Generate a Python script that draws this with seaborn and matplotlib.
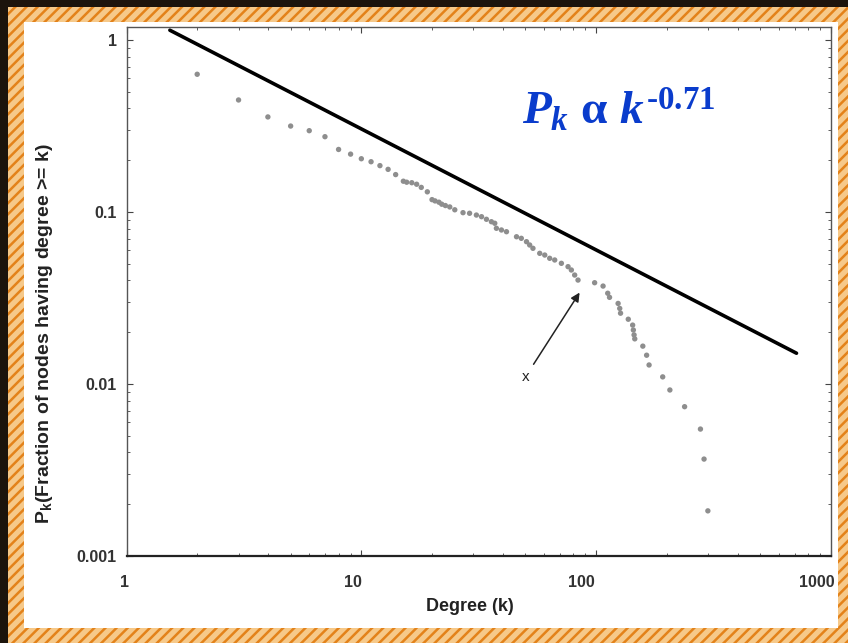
import numpy as np
import pandas as pd
import seaborn as sns
import matplotlib.pyplot as plt
from matplotlib.patches import Rectangle
from matplotlib.ticker import NullFormatter
from matplotlib.transforms import ScaledTranslation

# cumulative degree distribution
degree = [2, 3, 4, 5, 6, 7, 8, 9, 10, 11, 12, 13, 14,
          15.1, 15.6, 16.4, 17.2, 18.0, 19.1,
          20.0, 20.6, 21.4, 22.0, 22.8, 23.8, 25.0,
          27.1, 28.9, 30.9, 32.5, 34.1, 35.8, 37.0,
          37.6, 39.5, 41.5,
          45.8, 48.0, 50.5, 52.1, 53.8,
          57.5, 60.4, 63.4, 66.6,
          71.1, 75.9, 78.4, 81.0, 83.7,
          98.5, 107, 112, 114,
          124, 126, 127, 137,
          143, 144, 145, 146,
          158, 164, 168,
          192, 206, 238,
          278, 288, 299]
frac_nodes = [0.632, 0.448, 0.357, 0.316, 0.297, 0.274, 0.231, 0.217, 0.204, 0.196, 0.186, 0.177, 0.165,
              0.151, 0.149, 0.148, 0.145, 0.139, 0.131,
              0.118, 0.116, 0.114, 0.111, 0.109, 0.107, 0.103,
              0.0991, 0.0983, 0.0960, 0.0939, 0.0907, 0.0878, 0.0860,
              0.0804, 0.0786, 0.0768,
              0.0718, 0.0703, 0.0672, 0.0643, 0.0615,
              0.0575, 0.0562, 0.0538, 0.0526,
              0.0503, 0.0481, 0.0460, 0.0430, 0.0402,
              0.0388, 0.0371, 0.0337, 0.0319,
              0.0294, 0.0275, 0.0258, 0.0238,
              0.0220, 0.0206, 0.0193, 0.0183,
              0.0166, 0.0147, 0.0129,
              0.0110, 0.00923, 0.00738,
              0.00547, 0.00366, 0.00183]

# power-law fit line (end points)
fit_degree = [1.53, 713]
fit_frac = [1.14, 0.0151]

x_ticks = [1, 10, 100, 1000]
x_tick_labels = ['1', '10', '100', '1000']
y_ticks = [0.001, 0.01, 0.1, 1]
y_tick_labels = ['0.001', '0.01', '0.1', '1']

arrow_tip = (85, 0.034)
arrow_label = (50, 0.011)

sns.set_style('ticks')
plt.rcParams['font.family'] = ['Liberation Sans', 'DejaVu Sans']
plt.rcParams['hatch.linewidth'] = 1.8
plt.rcParams['mathtext.fontset'] = 'custom'
plt.rcParams['mathtext.rm'] = 'Liberation Serif:bold'
plt.rcParams['mathtext.it'] = 'Liberation Serif:bold:italic'
plt.rcParams['mathtext.bf'] = 'Liberation Serif:bold'

fig = plt.figure(figsize=(8.48, 6.43), dpi=100, facecolor='#1c140c')

# slide frame: orange hatched border + white panel
fig.patches.append(Rectangle((8 / 848, 0), 1 - 8 / 848, 1 - 7 / 643, transform=fig.transFigure,
                             facecolor='#f6c98a', edgecolor='#e3821a', hatch='///', lw=0, zorder=0))
fig.patches.append(Rectangle((24 / 848, 15 / 643), 814 / 848, 606 / 643, transform=fig.transFigure,
                             facecolor='white', edgecolor='none', zorder=1))

ax = fig.add_axes([126.5 / 848, 1 - 556 / 643, 704.5 / 848, 529 / 643])
ax.set_facecolor('white')
ax.set_zorder(2)

sns.scatterplot(x=degree, y=frac_nodes, ax=ax, s=15, color='#8e8e8e', edgecolor='none',
                legend=False, zorder=3)
sns.lineplot(x=fit_degree, y=fit_frac, ax=ax, color='black', lw=2.6, zorder=4)

ax.set_xscale('log')
ax.set_yscale('log')
ax.set_xlim(1, 1000)
ax.set_ylim(0.001, 1.19)
ax.set_xticks(x_ticks, x_tick_labels)
ax.set_yticks(y_ticks, y_tick_labels)
ax.xaxis.set_minor_formatter(NullFormatter())
ax.yaxis.set_minor_formatter(NullFormatter())

ax.tick_params(which='both', direction='in', top=True, right=True, colors='#444',
               labelcolor='#333', labelsize=11.5)
ax.tick_params(axis='x', which='major', length=4, pad=14)
ax.tick_params(axis='y', which='major', length=4, pad=7)
ax.tick_params(which='minor', length=2.5)
for lab in ax.get_xticklabels() + ax.get_yticklabels():
    lab.set_fontweight('bold')

# the original x labels sit a little left of their ticks
x_shift = [-2, -8, -15, 4]
for lab, dx in zip(ax.get_xticklabels(), x_shift):
    lab.set_transform(lab.get_transform() + ScaledTranslation(dx / 100, 0, fig.dpi_scale_trans))
ax.get_xticklabels()[-1].set_horizontalalignment('right')

for side in ['left', 'top', 'right']:
    ax.spines[side].set_color('#555')
    ax.spines[side].set_linewidth(1.0)
ax.spines['bottom'].set_color('#222')
ax.spines['bottom'].set_linewidth(1.6)

ax.set_xlabel('Degree (k)', fontsize=13, fontweight='bold', color='#222')
ax.set_ylabel(r'P$\mathregular{_k}$(Fraction of nodes having degree >= k)', fontsize=14,
              fontweight='bold', color='#222')
ax.xaxis.set_label_coords(0.488, -0.08)
ax.yaxis.set_label_coords(-0.101, 0.42)

ax.annotate('x', xy=arrow_tip, xytext=arrow_label, ha='center', va='center', fontsize=11,
            color='#222', arrowprops=dict(arrowstyle='-|>', color='#222', lw=1.1,
                                          mutation_scale=13, shrinkA=2, shrinkB=0))

ax.text(0.561, 0.815, r'$P_k\ \mathrm{α}\ k^{\text{-0.71}}$', transform=ax.transAxes,
        fontsize=34, color='#0a3ccc', ha='left', va='baseline')

fig.savefig('out.png', dpi=100, facecolor=fig.get_facecolor())
